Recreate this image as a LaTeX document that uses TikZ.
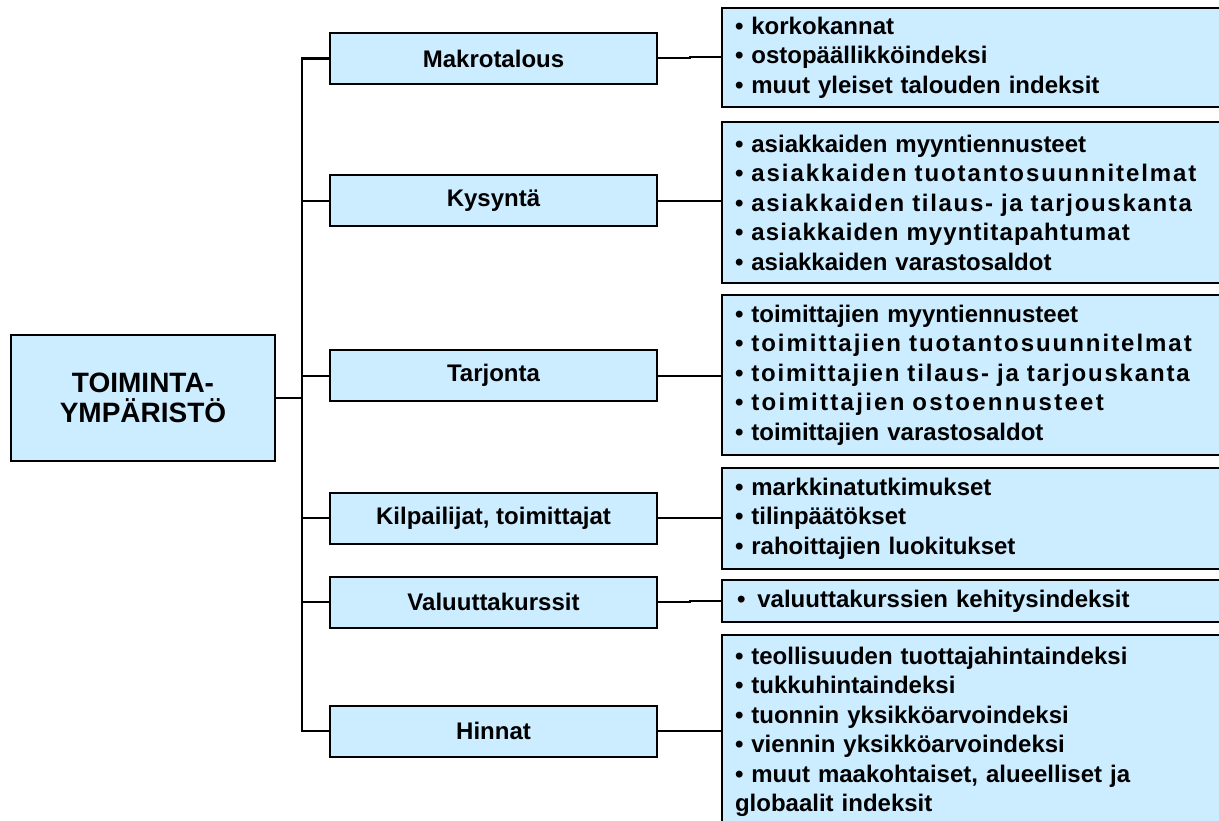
\documentclass[tikz,border=0pt]{standalone}
\usepackage{fontspec}
\setmainfont{Liberation Sans}
% a list line set with extra tracking between its letters
\newcommand\tracked[2]{{\addfontfeatures{LetterSpace=#1}#2}}
\begin{document}
\begin{tikzpicture}[x=1pt,y=-1pt,
  box/.style={draw=black, line width=2pt, fill=boxblue, rectangle, inner sep=0pt,
    font=\bfseries\fontsize{24}{29.5}\selectfont},
  rootbox/.style={box, minimum width=264pt, minimum height=126pt, align=center,
    font=\bfseries\fontsize{28}{30}\selectfont},
  midbox/.style={box, minimum width=327pt, minimum height=51pt},
  listbox/.style={box, minimum width=500pt, text width=474pt, align=left},
  trunk/.style={line width=2.6pt, line join=miter},
  branch/.style={line width=2pt}
]
\definecolor{boxblue}{RGB}{204,236,255}
\useasboundingbox (0,0) rectangle (1219,821);
\begin{scope}
\clip (0,0) rectangle (1219,821);

% root node
\node[rootbox] (env) at (143,398) {TOIMINTA-\\YMPÄRISTÖ};

% second level
\node[midbox] (mak) at (493.5,58.5)  {Makrotalous};
\node[midbox] (kys) at (493.5,201)   {Kysyntä};
\node[midbox] (tar) at (493.5,375.5) {Tarjonta};
\node[midbox] (kil) at (493.5,518)   {Kilpailijat, toimittajat};
\node[midbox] (val) at (493.5,602)   {Valuuttakurssit};
\node[midbox] (hin) at (493.5,731)   {Hinnat};

% detail lists
\node[listbox, minimum height=99pt] (makR) at (972,57.5)
  {• korkokannat\\• ostopäällikköindeksi\\• muut yleiset talouden indeksit};
\node[listbox, minimum height=161pt] (kysR) at (972,202.5)
  {• asiakkaiden myyntiennusteet\\
   \tracked{8}{• asiakkaiden tuotantosuunnitelmat}\\
   \tracked{7}{• asiakkaiden tilaus- ja tarjouskanta}\\
   \tracked{4.6}{• asiakkaiden myyntitapahtumat}\\
   • asiakkaiden varastosaldot};
\node[listbox, minimum height=160pt] (tarR) at (972,375)
  {• toimittajien myyntiennusteet\\
   \tracked{8.2}{• toimittajien tuotantosuunnitelmat}\\
   \tracked{7.6}{• toimittajien tilaus- ja tarjouskanta}\\
   \tracked{9.5}{• toimittajien ostoennusteet}\\
   • toimittajien varastosaldot};
\node[listbox, minimum height=101pt] (kilR) at (972,518.5)
  {• markkinatutkimukset\\• tilinpäätökset\\• rahoittajien luokitukset};
\node[listbox, minimum height=42pt] (valR) at (972,601)
  {\hspace*{2pt}•\hspace{0.5em}valuuttakurssien kehitysindeksit};
\node[listbox, minimum height=194pt] (hinR) at (972,732)
  {• teollisuuden tuottajahintaindeksi\\• tukkuhintaindeksi\\• tuonnin yksikköarvoindeksi\\• viennin yksikköarvoindeksi\\• muut maakohtaiset, alueelliset ja\\globaalit indeksit};

% tree trunk
\coordinate (t) at (302,398);
\draw[trunk] (env.east) -- (t);
\draw[trunk] (mak.west) -- (mak.west -| t) -- (hin.west -| t) -- (hin.west);
\draw[branch] (kys.west -| t) -- (kys.west);
\draw[branch] (tar.west -| t) -- (tar.west);
\draw[branch] (kil.west -| t) -- (kil.west);
\draw[branch] (val.west -| t) -- (val.west);

% links to the lists
\coordinate (j1) at (690,57);
\coordinate (j2) at (690,601);
\draw[branch] (mak.east) -| (j1) -- (j1 -| makR.west);
\draw[branch] (kys.east) -- (kys.east -| kysR.west);
\draw[branch] (tar.east) -- (tar.east -| tarR.west);
\draw[branch] (kil.east) -- (kil.east -| kilR.west);
\draw[branch] (val.east) -| (j2) -- (j2 -| valR.west);
\draw[branch] (hin.east) -- (hin.east -| hinR.west);
\end{scope}
\end{tikzpicture}
\end{document}
